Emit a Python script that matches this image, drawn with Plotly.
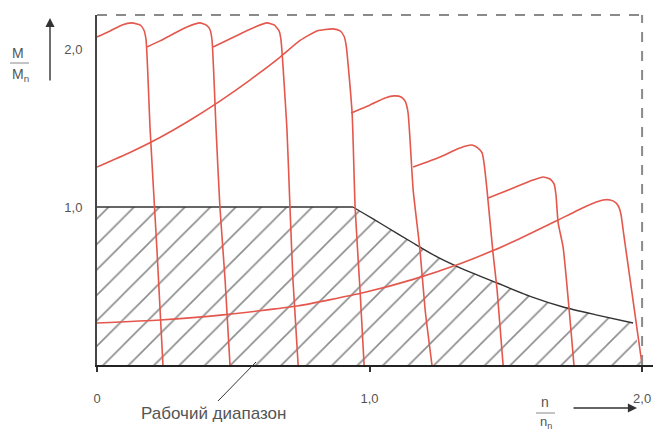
import plotly.graph_objects as go

# Torque/speed characteristics of a frequency-controlled motor (M/Mn against n/nn)
c1_n = [0.000, 0.048, 0.092, 0.128, 0.158, 0.172, 0.180, 0.195, 0.220, 0.242]
c1_m = [2.076, 2.114, 2.152, 2.165, 2.152, 2.120, 2.057, 1.487, 0.728, 0.000]

c2_n = [0.184, 0.231, 0.279, 0.330, 0.378, 0.400, 0.415, 0.422, 0.437, 0.451, 0.470, 0.488]
c2_m = [2.013, 2.051, 2.095, 2.139, 2.165, 2.152, 2.120, 2.057, 1.487, 1.000, 0.538, 0.000]

c3_n = [0.426, 0.525, 0.580, 0.624, 0.650, 0.668, 0.675, 0.697, 0.708, 0.719, 0.738]
c3_m = [2.013, 2.095, 2.139, 2.165, 2.152, 2.114, 2.057, 1.487, 1.000, 0.538, 0.000]

c4_n = [0.000, 0.121, 0.231, 0.341, 0.451, 0.561, 0.672, 0.745, 0.807, 0.866,
        0.892, 0.906, 0.914, 0.936, 0.947, 0.965, 0.980]
c4_m = [1.253, 1.345, 1.440, 1.549, 1.670, 1.803, 1.949, 2.054, 2.114, 2.127,
        2.114, 2.082, 2.025, 1.595, 1.000, 0.475, 0.000]

c5_n = [0.932, 1.002, 1.057, 1.090, 1.116, 1.130, 1.141, 1.160, 1.185, 1.204, 1.229]
c5_m = [1.595, 1.646, 1.690, 1.703, 1.696, 1.671, 1.601, 1.108, 0.728, 0.348, 0.000]

c6_n = [1.160, 1.259, 1.314, 1.354, 1.376, 1.398, 1.413, 1.420, 1.431, 1.453, 1.468, 1.490]
c6_m = [1.253, 1.316, 1.361, 1.386, 1.392, 1.373, 1.342, 1.278, 1.108, 0.709, 0.475, 0.000]

c7_n = [1.435, 1.527, 1.600, 1.637, 1.662, 1.677, 1.684, 1.692, 1.710, 1.750]
c7_m = [1.057, 1.120, 1.171, 1.190, 1.177, 1.146, 1.076, 0.899, 0.747, 0.000]

c8_n = [0.000, 0.231, 0.462, 0.734, 0.976, 1.160, 1.332, 1.453, 1.552, 1.688, 1.791,
        1.857, 1.883, 1.905, 1.916, 1.923, 1.932, 1.966, 2.000]
c8_m = [0.266, 0.285, 0.317, 0.373, 0.457, 0.542, 0.641, 0.724, 0.801, 0.914, 1.002,
        1.044, 1.044, 1.025, 0.994, 0.949, 0.835, 0.418, 0.000]

# Upper limit of the working range: constant torque up to the corner,
# then the field-weakening branch
flat_n = [0.000, 0.939]
flat_m = [1.000, 1.000]
weak_n = [0.939, 0.976, 1.050, 1.160, 1.248, 1.332, 1.468, 1.600, 1.710, 1.835, 1.967]
weak_m = [1.000, 0.962, 0.886, 0.772, 0.684, 0.615, 0.519, 0.428, 0.367, 0.316, 0.266]

x_ticks = [0, 1, 2]
x_tick_text = ["0", "1,0", "2,0"]
y_ticks = [1, 2]
y_tick_text = ["1,0", "2,0"]

RED = "#e4574c"
TEXT = "#555555"
FONT = "Liberation Sans, Arial, sans-serif"

W, H = 654, 430
L, R, T, B = 97, 1, 15, 65


def px(xp):
    return (xp - L) / (W - L - R)


def py(yp):
    return (H - B - yp) / (H - T - B)


def label(x, y, text, size=14):
    return dict(xref="paper", yref="paper", x=px(x), y=py(y), text=text,
                showarrow=False, xanchor="center", yanchor="middle",
                font=dict(size=size, color=TEXT, family=FONT))


fig = go.Figure()

# hatched working range
fig.add_trace(go.Scatter(
    x=[0] + flat_n + weak_n[1:] + [2.0, 0],
    y=[0] + flat_m + weak_m[1:] + [0.0, 0],
    mode="lines", line=dict(width=0), fill="toself",
    fillcolor="rgba(0,0,0,0)",
    fillpattern=dict(shape="/", size=18, solidity=0.09,
                     fgcolor="#1a1a1a", bgcolor="white"),
    hoverinfo="skip", showlegend=False,
))
fig.add_trace(go.Scatter(
    x=flat_n, y=flat_m, mode="lines",
    line=dict(color="#333333", width=1.4),
    hoverinfo="skip", showlegend=False,
))
fig.add_trace(go.Scatter(
    x=weak_n, y=weak_m, mode="lines",
    line=dict(color="#333333", width=1.4, shape="spline", smoothing=0.6),
    hoverinfo="skip", showlegend=False,
))

for cn, cm in [(c1_n, c1_m), (c2_n, c2_m), (c3_n, c3_m), (c4_n, c4_m),
               (c5_n, c5_m), (c6_n, c6_m), (c7_n, c7_m), (c8_n, c8_m)]:
    fig.add_trace(go.Scatter(
        x=cn, y=cm, mode="lines",
        line=dict(color=RED, width=1.6, shape="spline", smoothing=0.5),
        hoverinfo="skip", showlegend=False,
    ))

shapes = [
    # dashed frame at top and at n/nn = 2
    dict(type="line", xref="x", yref="paper", x0=0, x1=2.0, y0=1, y1=1,
         line=dict(color="#8a8a8a", width=2, dash="10px,9px")),
    dict(type="line", xref="x", yref="paper", x0=2.0, x1=2.0, y0=0, y1=1,
         line=dict(color="#8a8a8a", width=2, dash="10px,9px")),
    # fraction bars of the axis titles
    dict(type="line", xref="paper", yref="paper", x0=px(10), x1=px(29),
         y0=py(63), y1=py(63), line=dict(color="#888888", width=1)),
    dict(type="line", xref="paper", yref="paper", x0=px(536), x1=px(555),
         y0=py(413), y1=py(413), line=dict(color="#888888", width=1)),
    # leader of the working range label
    dict(type="line", xref="paper", yref="paper", x0=px(218), x1=px(256),
         y0=py(401), y1=py(362), line=dict(color="#333333", width=1)),
]

annotations = [
    label(18, 53, "M"),
    label(20, 75, "M<sub>n</sub>"),
    label(545, 402, "n"),
    label(546, 422, "n<sub>n</sub>", size=13),
    label(213, 413, "Рабочий диапазон", size=17),
    # axis direction arrows
    dict(xref="paper", yref="paper", x=px(50), y=py(18), ax=0, ay=64, text="",
         showarrow=True, arrowhead=2, arrowsize=1.3, arrowwidth=1.4, arrowcolor="#333333"),
    dict(xref="paper", yref="paper", x=px(637), y=py(408), ax=-65, ay=0, text="",
         showarrow=True, arrowhead=2, arrowsize=1.3, arrowwidth=1.4, arrowcolor="#333333"),
]

fig.update_layout(
    width=W, height=H,
    margin=dict(l=L, r=R, t=T, b=B),
    paper_bgcolor="white", plot_bgcolor="white",
    showlegend=False,
    shapes=shapes, annotations=annotations,
    xaxis=dict(range=[0, 2.04], showgrid=False, zeroline=False,
               showline=True, linecolor="#222222", linewidth=2,
               tickvals=x_ticks, ticktext=x_tick_text,
               ticks="outside", ticklen=5, tickwidth=1.5, tickcolor="#333333",
               ticklabelstandoff=15,
               tickfont=dict(size=13, color=TEXT, family=FONT)),
    yaxis=dict(range=[0, 2.215], showgrid=False, zeroline=False,
               showline=True, linecolor="#444444", linewidth=2,
               tickvals=y_ticks, ticktext=y_tick_text, ticks="",
               ticklabelstandoff=10,
               tickfont=dict(size=13, color=TEXT, family=FONT)),
)

fig.write_html("out.html")
